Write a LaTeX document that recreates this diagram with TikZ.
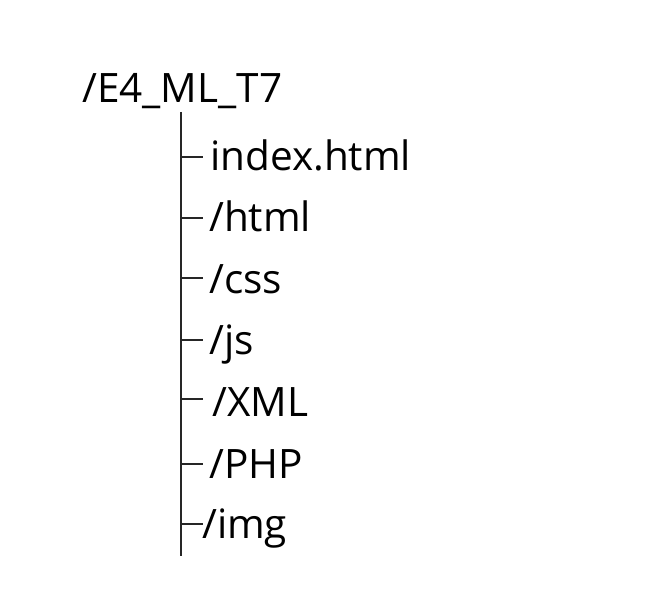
\documentclass[tikz,border=0pt]{standalone}
\usepackage{fontspec}
\setmainfont{Open Sans}
\begin{document}
\begin{tikzpicture}[x=1pt,y=-1pt,
  entry/.style={anchor=base west,inner sep=0pt,font=\fontsize{40.5}{48}\selectfont,text=black},
  trunk/.style={draw=black!85,line width=1.6pt},
  branch/.style={draw=black!85,line width=1.6pt}]
  \useasboundingbox (0,0) rectangle (662,615);
  % root folder
  \node[entry] (root) at (82,103) {/E4\_ML\_T7};
  % children
  \node[entry] (index) at (210,171) {index.html};
  \node[entry] (html) at (209,232) {/html};
  \node[entry] (css) at (209,293) {/css};
  \node[entry] (js) at (209,354) {/js};
  \node[entry] (xml) at (212,416) {/XML};
  \node[entry] (php) at (209,478) {/PHP};
  \node[entry] (img) at (202,538) {/img};
  % vertical trunk
  \coordinate (top) at (181,112);
  \coordinate (bottom) at (181,556);
  \draw[trunk] (top) -- (bottom);
  % branches
  \foreach \n/\y in {bi/157,bh/218,bc/278,bj/340,bx/399,bp/464,bm/524}{
    \coordinate (\n) at (181,\y);
    \draw[branch] (\n) -- ++(22,0);
  }
\end{tikzpicture}
\end{document}
